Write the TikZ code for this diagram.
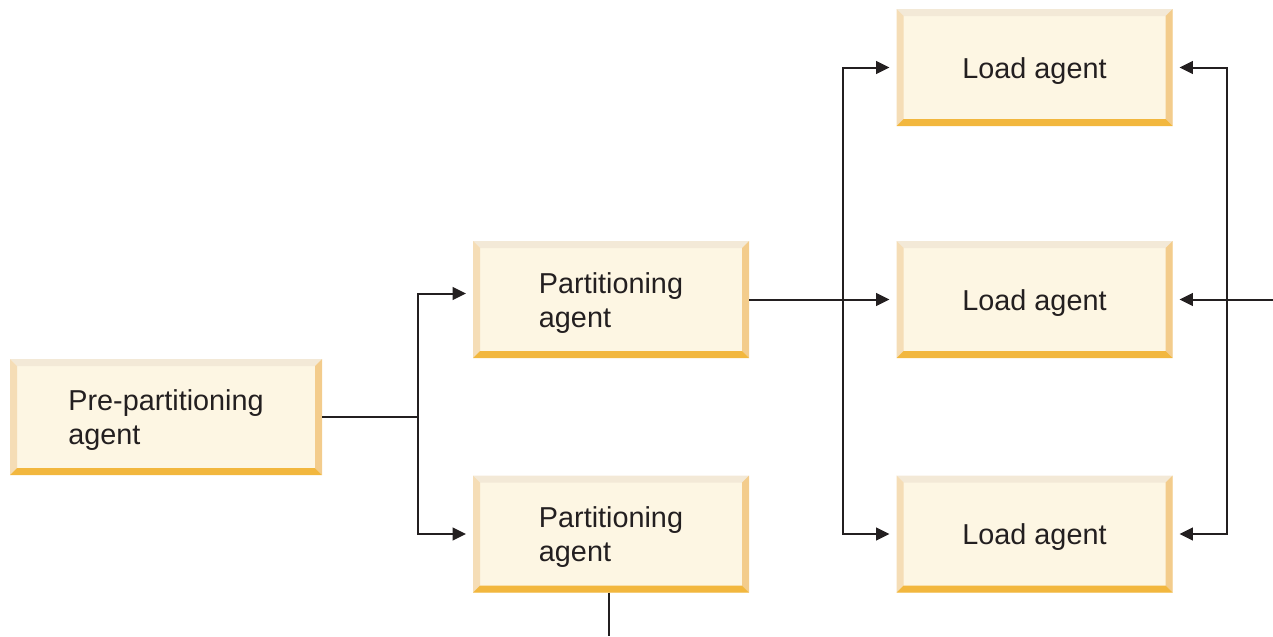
\documentclass[tikz,border=0pt]{standalone}
\usepackage{fontspec}
\setmainfont{Liberation Sans}
\usetikzlibrary{arrows.meta}
\definecolor{agentfill}{RGB}{253,246,227}
\definecolor{beveltop}{RGB}{243,233,215}
\definecolor{bevelleft}{RGB}{245,221,182}
\definecolor{bevelright}{RGB}{243,204,140}
\definecolor{bevelbottom}{RGB}{242,183,62}
\definecolor{inkline}{RGB}{35,31,32}
\def\bw{5.25pt}
\def\topstrut{\rule{0pt}{20.5pt}}
\tikzset{
	agent/.style={fill=agentfill, inner sep=0pt, outer sep=0pt, align=left,
		minimum width=207pt, minimum height=87.75pt, text=inkline,
		font=\fontsize{21.6pt}{25.5pt}\selectfont,
		path picture={
			\coordinate (nw) at (path picture bounding box.north west);
			\coordinate (ne) at (path picture bounding box.north east);
			\coordinate (se) at (path picture bounding box.south east);
			\coordinate (sw) at (path picture bounding box.south west);
			\fill[beveltop] (nw) -- (ne) -- ([shift={(-\bw,-\bw)}]ne) -- ([shift={(\bw,-\bw)}]nw) -- cycle;
			\fill[bevelleft] (nw) -- (sw) -- ([shift={(\bw,\bw)}]sw) -- ([shift={(\bw,-\bw)}]nw) -- cycle;
			\fill[bevelright] (ne) -- (se) -- ([shift={(-\bw,\bw)}]se) -- ([shift={(-\bw,-\bw)}]ne) -- cycle;
			\fill[bevelbottom] (sw) -- (se) -- ([shift={(-\bw,\bw)}]se) -- ([shift={(\bw,\bw)}]sw) -- cycle;
		}},
	link/.style={draw=inkline, line width=1.5pt},
	arr/.style={link, -{Triangle[length=10pt,width=9.5pt]}, shorten >=5.25pt}
}

\begin{document}
\begin{tikzpicture}[x=0.75pt, y=-0.75pt]
	%%%%% START %%%%%
	\useasboundingbox (0, 0) rectangle (1273, 636);
	
	\node[agent, minimum width=234pt, minimum height=87pt] (pre) at (166, 417) {\topstrut Pre-partitioning\\agent};
	
	\node[agent] (part1) at (611, 299.5) {\topstrut Partitioning\\agent};
	\node[agent] (part2) at (611, 534) {\topstrut Partitioning\\agent};
	
	\node[agent] (load1) at (1034.5, 67.5) {\topstrut Load agent};
	\node[agent] (load2) at (1034.5, 299.5) {\topstrut Load agent};
	\node[agent] (load3) at (1034.5, 534) {\topstrut Load agent};
	
	\coordinate (split) at (418, 417);
	\coordinate (fanl) at (843, 299.5);
	\coordinate (fanr) at (1227, 299.5);
	\coordinate (feed) at (1273, 299.5);
	\coordinate (drop) at (609, 636);
	
	\draw[link] (pre.east) -- (split);
	\draw[arr] (split) |- ([yshift=4.5pt]part1.west);
	\draw[arr] (split) |- (part2.west);
	
	\draw[arr] (part1.east) -- (load2.west);
	\draw[arr] (fanl) |- (load1.west);
	\draw[arr] (fanl) |- (load3.west);
	
	\draw[arr] (feed) -- (load2.east);
	\draw[arr] (fanr) |- (load1.east);
	\draw[arr] (fanr) |- (load3.east);
	
	\draw[link] (part2.south -| drop) -- (drop);
	%%%%% END %%%%%
\end{tikzpicture}
\end{document}
